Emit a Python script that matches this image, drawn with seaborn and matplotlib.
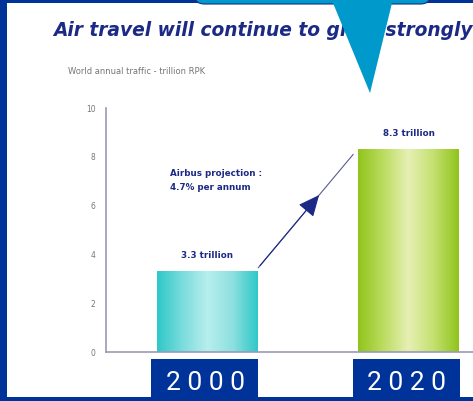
import numpy as np
import pandas as pd
import matplotlib
matplotlib.use("Agg")
import matplotlib.pyplot as plt
import seaborn as sns
from matplotlib.patches import Rectangle, Polygon, FancyBboxPatch
from matplotlib.transforms import blended_transform_factory
from matplotlib.colors import LinearSegmentedColormap

# ---- data ----
years = ["2000", "2020"]
traffic = [3.3, 8.3]
bar_labels = ["3.3 trillion", "8.3 trillion"]
yticks = [0, 2, 4, 6, 8, 10]
title = "Air travel will continue to grow strongly"
subtitle = "World annual traffic - trillion RPK"
projection = "Airbus projection :\n4.7% per annum"

NAVY = "#1c2a86"
FRAME = "#003399"
AXC = "#9a9ab8"

sns.set_theme(style="white")
plt.rcParams["font.family"] = ["DejaVu Sans"]

W, H = 473, 401
fig = plt.figure(figsize=(W / 100, H / 100), dpi=100)
fig.patch.set_facecolor("white")

def fx(px):
    return px / W

def fy(py):
    return 1 - py / H

ax = fig.add_axes([fx(106), fy(352), 1 - fx(106), (352 - 108) / H])
ax.set_facecolor("none")

df = pd.DataFrame({"year": years, "traffic": traffic})
sns.barplot(data=df, x="year", y="traffic", ax=ax, width=0.5,
            palette=["#33cccc", "#99cc22"], hue="year", legend=False,
            saturation=1)

ax.set_ylim(0, 10)
ax.set_xlim(-0.503, 1.32)
ax.set_yticks(yticks)
ax.set_yticklabels([str(t) for t in yticks], fontsize=5.5, color="#777777")
ax.tick_params(axis="y", direction="inout", length=5, width=0.8, color=AXC, pad=5)
ax.tick_params(axis="x", length=0, labelbottom=False)
ax.set_xlabel("")
ax.set_ylabel("")
for s in ["top", "right"]:
    ax.spines[s].set_visible(False)
for s in ["left", "bottom"]:
    ax.spines[s].set_color(AXC)
    ax.spines[s].set_linewidth(1.2)

# gradients inside bars
grads = [
    LinearSegmentedColormap.from_list("g0", ["#2ec8c8", "#7adcdc", "#b8eeee", "#8ee0e0", "#2ec8c8"]),
    LinearSegmentedColormap.from_list("g1", ["#90c41c", "#bcdc60", "#e6f0b4", "#c4e070", "#90c41c"]),
]
gvals = np.linspace(0, 1, 256).reshape(1, -1)
for patch, cmap in zip(ax.patches, grads):
    x0 = patch.get_x()
    w = patch.get_width()
    h = patch.get_height()
    im = ax.imshow(gvals, cmap=cmap, aspect="auto", extent=[x0, x0 + w, 0, h],
                   zorder=patch.get_zorder() + 0.1)
    im.set_clip_path(patch)
ax.set_xlim(-0.503, 1.32)
ax.set_ylim(0, 10)

# bar value labels
for i, (v, lab) in enumerate(zip(traffic, bar_labels)):
    ax.text(i, v + 0.65, lab, ha="center", va="center", fontsize=6.3,
            fontweight="bold", color=NAVY)

# projection arrow
x_start, y_start = 0.253, 3.45
x_end, y_end = 0.725, 8.1
frac = 0.66
x_mid, y_mid = x_start + frac * (x_end - x_start), y_start + frac * (y_end - y_start)
ax.plot([x_start, x_end], [y_start, y_end], color="#5a5a90", lw=0.8, zorder=5)
ax.annotate("", xy=(x_mid, y_mid), xytext=(x_start, y_start),
            arrowprops=dict(arrowstyle="-|>,head_length=1.1,head_width=0.5",
                            color=NAVY, lw=0.8), zorder=6)
ax.text(-0.185, 7.02, projection, ha="left", va="center", fontsize=6.3,
        fontweight="bold", color=NAVY, linespacing=1.75)

# year boxes under the bars
bt = blended_transform_factory(ax.transData, fig.transFigure)
for i, yr in enumerate(years):
    ax.add_patch(Rectangle((i - 0.277, 0), 0.53, fy(359), transform=bt,
                           facecolor=FRAME, edgecolor="none", clip_on=False, zorder=10))
    ax.text(i - 0.01, fy(383), " ".join(yr), transform=bt, ha="center", va="center",
            fontsize=19, color="white", clip_on=False, zorder=11,
            family=["Roboto"])

# frame
fig.patches.append(Rectangle((0, 0), fx(7), 1, transform=fig.transFigure,
                             facecolor=FRAME, edgecolor="none", zorder=20))
fig.patches.append(Rectangle((0, 1 - 3 / H), 1, 3 / H, transform=fig.transFigure,
                             facecolor=FRAME, edgecolor="none", zorder=20))
fig.patches.append(Rectangle((0, 0), 1, 4 / H, transform=fig.transFigure,
                             facecolor=FRAME, edgecolor="none", zorder=20))

# title and subtitle
fig.text(fx(53), fy(30), title, ha="left", va="center", fontsize=13.4,
         fontweight="heavy", style="italic", color=NAVY, zorder=15)
fig.text(fx(68), fy(71), subtitle, ha="left", va="center", fontsize=6,
         color="#777777", zorder=15)

# callout shape at the top
fig.patches.append(FancyBboxPatch((fx(195), fy(4)), fx(235), 10 / H,
                                  boxstyle="round,pad=0,rounding_size=0.02",
                                  transform=fig.transFigure, facecolor="#0099cc",
                                  edgecolor="#1c2a86", lw=0.8, zorder=25))
fig.patches.append(Polygon([(fx(333), fy(3)), (fx(392), fy(3)), (fx(370), fy(93))],
                           closed=True, transform=fig.transFigure,
                           facecolor="#0099cc", edgecolor="none", zorder=26))

fig.savefig("out.png", dpi=100, facecolor="white")
